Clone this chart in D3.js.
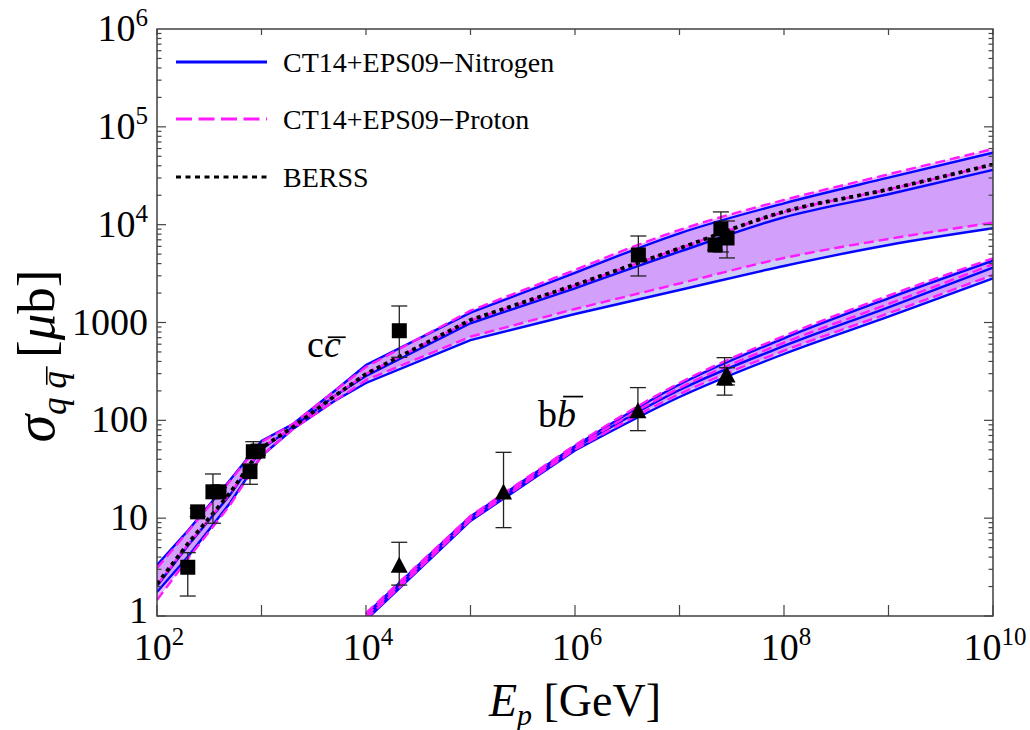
<!DOCTYPE html>
<html><head><meta charset="utf-8">
<script src="https://cdn.jsdelivr.net/npm/d3@7"></script>
<style>
body{margin:0;background:#fff}
svg{display:block}
text{font-family:"Liberation Serif","Times New Roman",serif;fill:#000}
</style>
</head><body>
<svg id="c" width="1030" height="730"></svg>
<script>
// ---------- data ----------
const energyC = [1e2, 2e2, 5e2, 1e3, 2e3, 5e3, 1e4, 1e5, 1e6, 1e7, 1e8, 1e9, 1e10];
const ccNitrogenHi  = [3.32, 7.57, 24.6, 61.5, 91.7, 199.5, 368, 1260, 3208, 8165, 16540, 30210, 54420];
const ccNitrogenMid = [2.03, 5.32, 17.3, 50.9, 85.5, 177, 284, 982, 2237, 5293, 11898, 20440, 36230];
const ccNitrogenLo  = [1.76, 4.11, 14.3, 43.2, 81.6, 158, 241, 662, 1222, 2149, 3783, 6198, 9183];
const ccProtonHi    = [3.09, 7.39, 24.0, 60.1, 91.7, 199.5, 351, 1320, 3442, 8821, 17880, 32730, 59360];
const ccProtonMid   = [2.07, 5.44, 17.7, 52.2, 85.5, 177, 298, 1048, 2389, 5709, 13480, 22880, 41210];
const ccProtonLo    = [1.46, 3.92, 13.6, 43.2, 81.6, 158, 258, 716, 1374, 2505, 4565, 7139, 10480];
const ccBERSS       = [2.12, 5.58, 18.1, 52.2, 85.5, 177, 298, 1061, 2418, 5736, 13575, 22990, 41410];

const energyB = [1e4, 1e5, 1e6, 1e7, 1e8, 1e9, 1e10];
const bbNitrogenHi  = [1.048, 10.40, 54.67, 232.4, 689.6, 1768, 4282];
const bbNitrogenMid = [0.977, 9.92, 52.16, 204.2, 575.3, 1430, 3633];
const bbNitrogenLo  = [0.910, 9.36, 49.18, 173.2, 476.5, 1147, 2830];
const bbProtonHi    = [1.073, 10.52, 55.97, 240.8, 728, 1880, 4532];
const bbProtonMid   = [1.0, 10.04, 52.78, 214.1, 621.9, 1546, 3936];
const bbProtonLo    = [0.932, 9.58, 50.35, 185.8, 515.1, 1242, 3059];

const ccDataE   = [197, 245, 343, 392, 776, 835, 926, 20830, 4.04e6, 2.19e7, 2.49e7, 2.85e7];
const ccDataVal = [3.15, 11.6, 18.6, 18.6, 29.9, 47.8, 48.5, 824, 4900, 6200, 9040, 7310];
const ccDataLo  = [1.60, 10.4, 8.87, 16.8, 22.2, 40.9, 44, 441, 2990, 5500, 5260, 4570];
const ccDataHi  = [4.44, 12.6, 28.3, 20.5, 35.8, 60.5, 53, 1475, 7660, 7000, 13500, 10900];

const bbDataE   = [2.08e4, 2.07e5, 4.0e6, 2.70e7, 2.85e7];
const bbDataVal = [3.19, 17.9, 121, 262, 280];
const bbDataLo  = [2.07, 8.0, 78.4, 181, 230];
const bbDataHi  = [5.67, 47.1, 216, 437, 345];

const xTickExps = [2, 3, 4, 5, 6, 7, 8, 9, 10];
const xLabelExps = [2, 4, 6, 8, 10];
const yTickExps = [0, 1, 2, 3, 4, 5, 6];
const yLabels = ["1", "10", "100", "1000", "10^4", "10^5", "10^6"];
const legendLabels = ["CT14+EPS09\u2212Nitrogen", "CT14+EPS09\u2212Proton", "BERSS"];

// ---------- setup ----------
const L = 157, R = 993, T = 29, B = 616;
const svg = d3.select("#c");
const x = d3.scaleLog().domain([1e2, 1e10]).range([L, R]);
const y = d3.scaleLog().domain([1, 1e6]).range([B, T]);

const BLUE = "#0505ff", MAG = "#ff1aff";
const SMOOTH_FROM = 1e6;   // smooth (monotone) interpolation above this energy, straight segments below

svg.append("defs").append("clipPath").attr("id", "clip")
  .append("rect").attr("x", L).attr("y", T).attr("width", R - L).attr("height", B - T);

const plot = svg.append("g").attr("clip-path", "url(#clip)");

function pts2(E, v) { return E.map((e, i) => [x(e), y(v[i])]); }
function pathOf(p, splitIdx) {
  const lin = d3.line().curve(d3.curveLinear);
  const mono = d3.line().curve(d3.curveMonotoneX);
  if (splitIdx <= 0) return mono(p);
  if (splitIdx >= p.length - 1) return lin(p);
  return lin(p.slice(0, splitIdx + 1)) + mono(p.slice(splitIdx)).replace(/^M/, "L");
}
function pathOfRev(p, splitIdx) {
  const lin = d3.line().curve(d3.curveLinear);
  const mono = d3.line().curve(d3.curveMonotoneX);
  const r = p.slice().reverse();
  const k = p.length - 1 - splitIdx;
  let s;
  if (splitIdx <= 0) s = mono(r);
  else if (splitIdx >= p.length - 1) s = lin(r);
  else s = mono(r.slice(0, k + 1)) + lin(r.slice(k)).replace(/^M/, "L");
  return s.replace(/^M/, "L");
}
function splitIndex(E) { const i = E.indexOf(SMOOTH_FROM); return i < 0 ? 0 : i; }
function line(E, v) { return pathOf(pts2(E, v), splitIndex(E)); }
function area(E, lo, hi) {
  const k = splitIndex(E);
  return pathOf(pts2(E, hi), k) + pathOfRev(pts2(E, lo), k) + "Z";
}

// bands
plot.append("path").attr("d", area(energyC, ccNitrogenLo, ccNitrogenHi)).attr("fill", "rgb(155,155,235)").attr("fill-opacity", 0.5);
plot.append("path").attr("d", area(energyC, ccProtonLo, ccProtonHi)).attr("fill", "rgb(215,115,255)").attr("fill-opacity", 0.5);
plot.append("path").attr("d", area(energyB, bbNitrogenLo, bbNitrogenHi)).attr("fill", "rgb(155,155,235)").attr("fill-opacity", 0.5);
plot.append("path").attr("d", area(energyB, bbProtonLo, bbProtonHi)).attr("fill", "rgb(215,115,255)").attr("fill-opacity", 0.5);

// nitrogen lines
[[energyC, ccNitrogenHi], [energyC, ccNitrogenMid], [energyC, ccNitrogenLo],
 [energyB, bbNitrogenHi], [energyB, bbNitrogenMid], [energyB, bbNitrogenLo]].forEach(([E, v]) => {
  plot.append("path").attr("d", line(E, v)).attr("fill", "none").attr("stroke", BLUE).attr("stroke-width", 2.4);
});
// proton lines
[[energyC, ccProtonHi], [energyC, ccProtonMid], [energyC, ccProtonLo],
 [energyB, bbProtonHi], [energyB, bbProtonMid], [energyB, bbProtonLo]].forEach(([E, v]) => {
  plot.append("path").attr("d", line(E, v)).attr("fill", "none").attr("stroke", MAG).attr("stroke-width", 2.4).attr("stroke-dasharray", "10,5");
});
// BERSS
plot.append("path").attr("d", line(energyC, ccBERSS)).attr("fill", "none").attr("stroke", "#000").attr("stroke-width", 3.8).attr("stroke-dasharray", "4,4");

// ---------- data points ----------
const pg = svg.append("g");
function errBars(E, v, lo, hi) {
  E.forEach((e, i) => {
    const px = x(e);
    pg.append("line").attr("x1", px).attr("x2", px).attr("y1", y(lo[i])).attr("y2", y(hi[i])).attr("stroke", "#222").attr("stroke-width", 1.3);
    [lo[i], hi[i]].forEach(w => pg.append("line").attr("x1", px - 8).attr("x2", px + 8).attr("y1", y(w)).attr("y2", y(w)).attr("stroke", "#222").attr("stroke-width", 1.3));
  });
}
errBars(ccDataE, ccDataVal, ccDataLo, ccDataHi);
errBars(bbDataE, bbDataVal, bbDataLo, bbDataHi);
ccDataE.forEach((e, i) => {
  pg.append("rect").attr("x", x(e) - 7.5).attr("y", y(ccDataVal[i]) - 7.5).attr("width", 15).attr("height", 15).attr("fill", "#000");
});
bbDataE.forEach((e, i) => {
  const px = x(e), py = y(bbDataVal[i]);
  pg.append("path").attr("d", `M${px},${py - 10}L${px + 8.5},${py + 6}L${px - 8.5},${py + 6}Z`).attr("fill", "#000");
});

// ---------- frame & ticks ----------
const ax = svg.append("g").attr("stroke", "#444").attr("stroke-width", 1.2);
ax.append("rect").attr("x", L).attr("y", T).attr("width", R - L).attr("height", B - T).attr("fill", "none").attr("stroke", "#333").attr("stroke-width", 1.4);
xTickExps.forEach(k => {
  const px = x(Math.pow(10, k));
  ax.append("line").attr("x1", px).attr("x2", px).attr("y1", B).attr("y2", B - 11);
  ax.append("line").attr("x1", px).attr("x2", px).attr("y1", T).attr("y2", T + 6);
});
for (let k = 0; k < 6; k++) {
  for (let m = 1; m <= 9; m++) {
    const py = y(m * Math.pow(10, k));
    const len = m === 1 ? 9 : 4.5;
    ax.append("line").attr("x1", L).attr("x2", L + len).attr("y1", py).attr("y2", py);
    ax.append("line").attr("x1", R).attr("x2", R - len).attr("y1", py).attr("y2", py);
  }
}

// tick labels
const lab = svg.append("g");
xLabelExps.forEach(k => {
  const t = lab.append("text").attr("x", x(Math.pow(10, k)) + 2).attr("y", 660).attr("text-anchor", "middle").attr("font-size", 38);
  t.append("tspan").text("10");
  t.append("tspan").text(k).attr("font-size", 25).attr("dy", -15);
});
yTickExps.forEach((k, i) => {
  const py = y(Math.pow(10, k));
  const t = lab.append("text").attr("x", 148).attr("y", k === 0 ? py + 7 : py + 12).attr("text-anchor", "end").attr("font-size", 38);
  const s = yLabels[i];
  if (s.includes("^")) {
    const [b, e] = s.split("^");
    t.append("tspan").text(b);
    t.append("tspan").text(e).attr("font-size", 25).attr("dy", -15);
  } else t.text(s);
});

// ---------- rich text helper ----------
function rich(g, px, py, anchor, parts) {
  const t = g.append("text").attr("x", px).attr("y", py).attr("text-anchor", anchor);
  parts.forEach(p => {
    const s = t.append("tspan").text(p.t).attr("font-size", p.size).attr("font-style", p.it ? "italic" : "normal");
    if (p.dy) s.attr("dy", p.dy);
  });
  let idx = 0;
  const n = t.node();
  parts.forEach(p => {
    if (p.over) {
      const a = n.getStartPositionOfChar(idx), b = n.getEndPositionOfChar(idx + p.t.length - 1);
      const h = p.size * p.over;
      const sh = h * 0.2;
      g.append("line").attr("x1", a.x + sh).attr("x2", b.x + sh + 1).attr("y1", a.y - h).attr("y2", a.y - h)
        .attr("stroke", "#000").attr("stroke-width", p.size * 0.045);
    }
    idx += p.t.length;
  });
  return t;
}

// labels cc / bb
rich(svg, 307, 357, "start", [{t: "c", size: 38}, {t: "c", size: 38, it: true, over: 0.52}]);
rich(svg, 538, 427, "start", [{t: "b", size: 38}, {t: "b", size: 38, it: true, over: 0.8}]);

// axis titles
rich(svg, 575, 716, "middle", [{t: "E", size: 46, it: true}, {t: "p", size: 30, it: true, dy: 9}, {t: " [GeV]", size: 46, dy: -9}]);
const yt = svg.append("g").attr("transform", "translate(54,356) rotate(-90)");
rich(yt, 0, 0, "middle", [
  {t: "\u03c3", size: 56, it: true},
  {t: "q", size: 35, it: true, dy: 12},
  {t: " ", size: 35},
  {t: "q", size: 35, it: true, over: 0.55},
  {t: " [", size: 53, dy: -12},
  {t: "\u03bc", size: 53, it: true},
  {t: "b]", size: 53}
]);

// ---------- legend ----------
const leg = svg.append("g");
const legY = [62, 119, 177];
leg.append("line").attr("x1", 176).attr("x2", 267).attr("y1", legY[0]).attr("y2", legY[0]).attr("stroke", BLUE).attr("stroke-width", 3);
leg.append("line").attr("x1", 176).attr("x2", 267).attr("y1", legY[1]).attr("y2", legY[1]).attr("stroke", MAG).attr("stroke-width", 3).attr("stroke-dasharray", "16,6.5");
leg.append("line").attr("x1", 176).attr("x2", 267).attr("y1", legY[2]).attr("y2", legY[2]).attr("stroke", "#000").attr("stroke-width", 3).attr("stroke-dasharray", "5,4.5");
legendLabels.forEach((s, i) => {
  leg.append("text").attr("x", 283).attr("y", legY[i] + 10).attr("font-size", 28).text(s);
});
</script>
</body></html>
